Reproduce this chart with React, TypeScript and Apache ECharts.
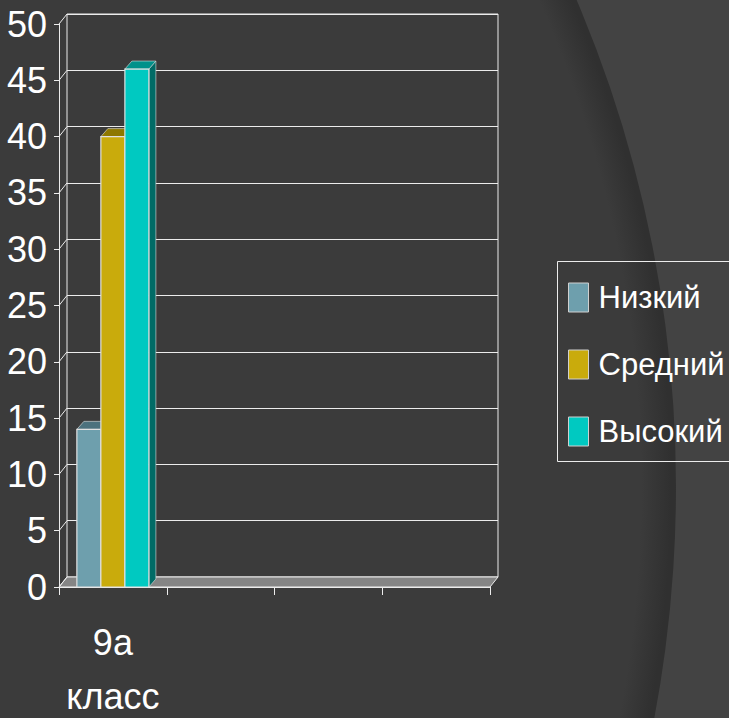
import React, { useEffect, useRef } from 'react';
import * as echarts from 'echarts';

// ---- data ----
const categories = ['9а класс', '', '', ''];
const seriesNames = ['Низкий', 'Средний', 'Высокий'];
const nizkiy = [14];
const sredniy = [40];
const vysokiy = [46];
const yTicks = [0, 5, 10, 15, 20, 25, 30, 35, 40, 45, 50];

// ---- style ----
const FONT = '"Liberation Sans", Arimo, Arial, sans-serif';
const LINE = '#ececec';
const DX = 8;
const DY = -10;
const BAR_DX = 7;
const BAR_DY = -8;
const BAR_FRAC = 0.2228;

const palettes = [
  { front: '#6e9fad', top: '#4c717d', side: '#3d5c66' },
  { front: '#c9ab0c', top: '#8e7800', side: '#6e5d00' },
  { front: '#00c9c1', top: '#00918a', side: '#006b66' },
];

function makeBarRender(idx: number, pal: { front: string; top: string; side: string }) {
  return (params: any, api: any) => {
    const cat = api.value(0);
    const v = api.value(1);
    const top = api.coord([cat, v]);
    const base = api.coord([cat, 0]);
    const band = api.size([1, 0])[0];
    const w = band * BAR_FRAC;
    const x0 = top[0] - 1.5 * w + idx * w;
    const x1 = x0 + w;
    const yT = top[1];
    const yB = base[1];
    const stroke = '#e0e0e0';
    return {
      type: 'group',
      children: [
        {
          type: 'polygon',
          shape: { points: [[x1, yT], [x1 + BAR_DX, yT + BAR_DY], [x1 + BAR_DX, yB + BAR_DY], [x1, yB]] },
          style: { fill: pal.side, stroke: 'rgba(220,220,220,0.6)', lineWidth: 1 },
        },
        {
          type: 'polygon',
          shape: { points: [[x0, yT], [x1, yT], [x1 + BAR_DX, yT + BAR_DY], [x0 + BAR_DX, yT + BAR_DY]] },
          style: { fill: pal.top, stroke: 'rgba(220,220,220,0.6)', lineWidth: 1 },
        },
        {
          type: 'rect',
          shape: { x: x0, y: yT, width: w, height: yB - yT },
          style: { fill: pal.front, stroke, lineWidth: 1.2 },
        },
      ],
    };
  };
}

const renderFrame = (params: any, api: any) => {
  const cs = params.coordSys;
  const x = cs.x;
  const xr = cs.x + cs.width;
  const y0 = cs.y + cs.height;
  const children: any[] = [
    {
      type: 'polygon',
      shape: { points: [[x, y0], [xr, y0], [xr + DX, y0 + DY], [x + DX, y0 + DY]] },
      style: { fill: '#858585', stroke: LINE, lineWidth: 1 },
    },
  ];
  yTicks.forEach((t) => {
    const p = api.coord([0, t]);
    children.push({
      type: 'line',
      shape: { x1: x, y1: p[1], x2: x + DX, y2: p[1] + DY },
      style: { stroke: LINE, lineWidth: 1 },
    });
  });
  return { type: 'group', children };
};

const legendEdge = (shape: any) => ({
  type: 'line',
  z: 5,
  silent: true,
  shape,
  style: { stroke: LINE, lineWidth: 1 },
});

export default function App() {
  const ref = useRef<HTMLDivElement>(null);
  useEffect(() => {
    if (!ref.current) return;
    const chart = echarts.init(ref.current, null, { renderer: 'svg' });
    const seriesValues = [nizkiy, sredniy, vysokiy];
    const option: any = {
      animation: false,
      backgroundColor: '#434343',
      graphic: [
        {
          type: 'circle',
          z: -100,
          silent: true,
          shape: { cx: -567, cy: 487, r: 1243 },
          style: {
            fill: {
              type: 'radial',
              x: 0.5,
              y: 0.5,
              r: 0.5,
              colorStops: [
                { offset: 0, color: '#3b3b3b' },
                { offset: 0.972, color: '#3b3b3b' },
                { offset: 0.996, color: '#303030' },
                { offset: 1, color: '#303030' },
              ],
            },
          },
        },
        legendEdge({ x1: 557.5, y1: 261.5, x2: 760, y2: 261.5 }),
        legendEdge({ x1: 557.5, y1: 261.5, x2: 557.5, y2: 461.5 }),
        legendEdge({ x1: 557.5, y1: 461.5, x2: 760, y2: 461.5 }),
      ],
      grid: [
        { left: 67, top: 14, width: 431, height: 563, outerBoundsMode: 'none', containLabel: false, show: true, borderColor: LINE, borderWidth: 1, backgroundColor: 'transparent' },
        { left: 59, top: 24, width: 431, height: 563, outerBoundsMode: 'none', containLabel: false },
      ],
      xAxis: [
        { type: 'category', gridIndex: 0, data: categories, show: false },
        {
          type: 'category',
          gridIndex: 1,
          data: categories,
          boundaryGap: true,
          axisLine: { show: true, lineStyle: { color: LINE, width: 1 } },
          axisTick: { show: true, interval: 0, length: 8, lineStyle: { color: LINE } },
          axisLabel: {
            interval: 0,
            color: '#ffffff',
            fontSize: 36,
            fontFamily: FONT,
            lineHeight: 54,
            margin: 28,
            formatter: (v: string) => v.replace(' ', '\n'),
          },
          splitLine: { show: false },
        },
      ],
      yAxis: [
        {
          type: 'value',
          gridIndex: 0,
          min: 0,
          max: 50,
          interval: 5,
          axisLine: { show: false },
          axisTick: { show: false },
          axisLabel: { show: false },
          splitLine: { show: true, lineStyle: { color: LINE, width: 1 } },
        },
        {
          type: 'value',
          gridIndex: 1,
          min: 0,
          max: 50,
          interval: 5,
          axisLine: { show: true, lineStyle: { color: LINE, width: 1 } },
          axisTick: { show: true, length: 5, lineStyle: { color: LINE } },
          axisLabel: {
            color: '#ffffff',
            fontSize: 36,
            fontFamily: FONT,
            margin: 12,
            padding: [8, 0, 0, 0],
          },
          splitLine: { show: false },
        },
      ],
      legend: {
        data: seriesNames,
        orient: 'vertical',
        left: 557,
        top: 261,
        itemWidth: 20,
        itemHeight: 29,
        itemGap: 36,
        padding: [21, 0, 20, 11],
        borderWidth: 0,
        backgroundColor: 'transparent',
        icon: 'rect',
        itemStyle: { borderColor: '#d0d0d0', borderWidth: 1 },
        textStyle: { color: '#ffffff', fontSize: 31, lineHeight: 29, fontFamily: FONT, padding: [0, 0, 0, 5] },
      },
      series: [
        {
          type: 'custom',
          name: 'frame',
          xAxisIndex: 1,
          yAxisIndex: 1,
          z: 1,
          silent: true,
          renderItem: renderFrame,
          data: [[0, 0]],
        },
        ...seriesNames.map((name, i) => ({
          type: 'custom',
          name,
          xAxisIndex: 1,
          yAxisIndex: 1,
          z: 2,
          itemStyle: { color: palettes[i].front },
          renderItem: makeBarRender(i, palettes[i]),
          data: seriesValues[i].map((v, ci) => [ci, v]),
        })),
      ],
    };
    chart.setOption(option);
    return () => chart.dispose();
  }, []);
  return (
    <div
      ref={ref}
      style={{ position: 'fixed', left: 0, top: 0, width: 729, height: 718 }}
    />
  );
}
